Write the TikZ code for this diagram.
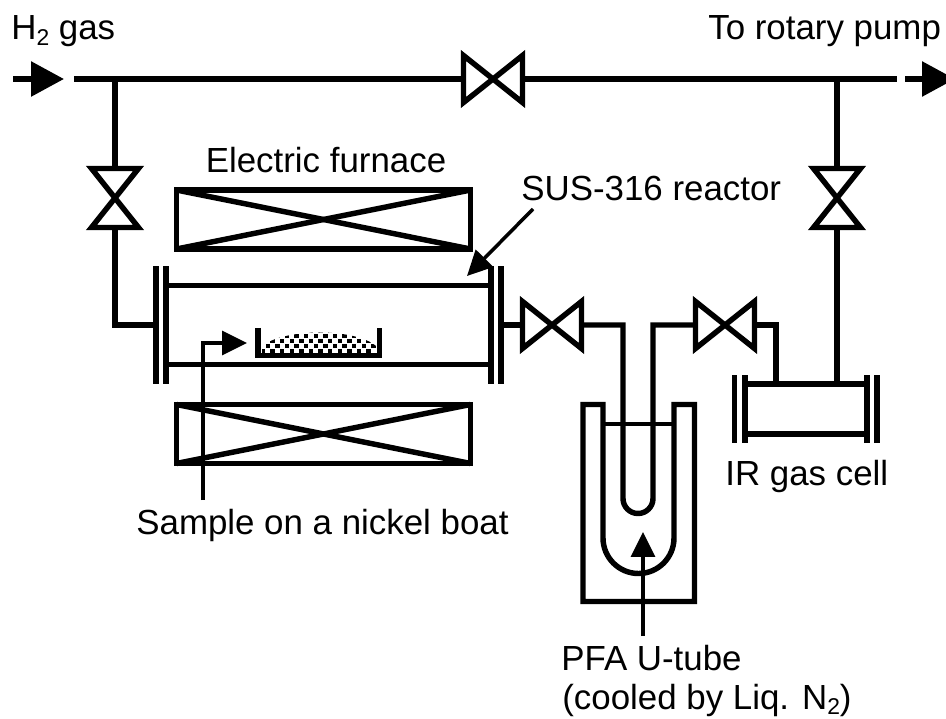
\documentclass[tikz,border=0pt]{standalone}
\usepackage{fontspec}
\setmainfont{Liberation Sans}
\usetikzlibrary{arrows.meta,positioning}

\begin{document}
\begin{tikzpicture}[
    x=0.02cm, y=-0.02cm,
    font=\fontsize{19.85}{24}\selectfont,
    pipe/.style={line width=3.1pt, line join=miter},
    thinpipe/.style={line width=1.8pt},
    bigarrow/.style={-{Triangle[length=0.66cm, width=0.68cm]}, line width=3.3pt},
    pointer/.style={-{Triangle[length=0.5cm, width=0.48cm]}, line width=2pt},
    valvex/.style={rectangle, inner sep=0pt, outer sep=0pt, minimum width=1.18cm, minimum height=0.94cm},
    valvey/.style={rectangle, inner sep=0pt, outer sep=0pt, minimum width=0.94cm, minimum height=1.18cm},
    furnace/.style={rectangle, draw, line width=3.1pt, inner sep=0pt, outer sep=0pt, minimum width=5.88cm, minimum height=1.18cm},
    vessel/.style={rectangle, inner sep=0pt, outer sep=0pt},
    flange/.style={rectangle, fill=black, inner sep=0pt, outer sep=0pt, minimum width=0.11cm},
    label/.style={inner sep=0pt, anchor=base west}
]
\clip[use as bounding box] (0,0) rectangle (946,719);

\newcommand{\subtwo}{\raisebox{-0.17em}{\fontsize{13}{13}\selectfont 2}}

\node[label] (h2) at (11,40) {H\subtwo{} gas};
\node[label] (pump) at (708,40) {To rotary pump};
\node[label] (furnacetext) at (205.5,173) {Electric furnace};
\node[label] (reactortext) at (521,201) {SUS-316 reactor};
\node[label] (boattext) at (136,534) {Sample on a nickel boat};
\node[label] (celltext) at (725,485) {IR gas cell};
\node[label] (tubetext) at (561,670) {PFA U-tube};
\node[label] (cooltext) at (562,709) {(cooled by Liq. N\subtwo)};

\node[vessel, minimum width=6.5cm, minimum height=1.58cm] (reactor) at (328.5,325) {};
\node[furnace, above=0.73cm of reactor, xshift=-0.1cm] (ftop) {};
\node[furnace, below=0.8cm of reactor, xshift=-0.1cm] (fbot) {};
\node[flange, minimum height=2.36cm] (rl1) at (reactor.west) {};
\node[flange, minimum height=2.36cm, left=0.09cm of rl1] (rl2) {};
\node[flange, minimum height=2.36cm] (rr1) at (reactor.east) {};
\node[flange, minimum height=2.36cm, right=0.09cm of rr1] (rr2) {};

\node[vessel, minimum width=2.44cm, minimum height=1cm] (cell) at (806,409) {};
\node[flange, minimum height=1.38cm] (cl1) at (cell.west) {};
\node[flange, minimum height=1.38cm, left=0.1cm of cl1] (cl2) {};
\node[flange, minimum height=1.38cm] (cr1) at (cell.east) {};
\node[flange, minimum height=1.38cm, right=0.09cm of cr1] (cr2) {};

\node[valvex] (vtop) at (493,79) {};
\node[valvex] (vreact) at (552,325) {};
\node[valvex] (vcell) at (725,325) {};
\node[valvey] (vfeed) at (115,198) {};
\node[valvey] (vexit) at (837,198) {};

\coordinate (linel) at (74,79);
\coordinate (liner) at (897,79);
\coordinate (jfeed) at (115,79);
\coordinate (jexit) at (837,79);
\coordinate (inl) at (13,79);
\coordinate (inr) at (64,79);
\coordinate (outl) at (905,79);
\coordinate (outr) at (955,79);
\coordinate (cellin) at (776,384);
\coordinate (ula) at (623,325);
\coordinate (ulb) at (623,498.5);
\coordinate (ura) at (653,325);
\coordinate (boatarrow) at (247,343);
\coordinate (boatbend) at (203,343);
\coordinate (boatend) at (203,500);
\coordinate (reactorarrow) at (467,276);
\coordinate (reactorstart) at (533,209);
\coordinate (dewararrow) at (643,532);
\coordinate (dewarend) at (643,636);

\draw[pipe] (reactor.north west) -- (reactor.north east);
\draw[pipe] (reactor.south west) -- (reactor.south east);
\draw[pipe] (cell.north west) -- (cell.north east);
\draw[pipe] (cell.south west) -- (cell.south east);
\foreach \f in {ftop,fbot} {
    \draw[pipe] (\f.north west) -- (\f.south east);
    \draw[pipe] (\f.south west) -- (\f.north east);
}
\foreach \v in {vtop,vreact,vcell} {
    \draw[pipe] (\v.north west) -- (\v.south east) -- (\v.north east) -- (\v.south west) -- cycle;
}
\foreach \v in {vfeed,vexit} {
    \draw[pipe] (\v.north west) -- (\v.north east) -- (\v.south west) -- (\v.south east) -- cycle;
}

\draw[pipe] (linel) -- (vtop.west);
\draw[pipe] (vtop.east) -- (liner);
\draw[pipe] (jfeed) -- (vfeed.north);
\draw[pipe] (vfeed.south) |- (rl2.west);
\draw[pipe] (jexit) -- (vexit.north);
\draw[pipe] (vexit.south) -- (vexit.south |- cell.north);
\draw[pipe] (rr2.east) -- (vreact.west);
\draw[pipe] (vreact.east) -- (ula) -- (ulb) arc[start angle=180, end angle=0, radius=15] -- (ura) -- (vcell.west);
\draw[pipe] (vcell.east) -| (cellin);

\draw[pipe] (603,404.5) -- (583,404.5) -- (583,601.5) -- (694.5,601.5) -- (694.5,404.5) -- (674,404.5) -- (674,538) arc[start angle=0, end angle=180, radius=35.5] -- cycle;
\draw[thinpipe] (603,424) -- (674,424);

\begin{scope}
\clip (262,357) -- (262,346) .. controls (285,328) and (355,328) .. (376,346) -- (376,357) -- cycle;
\foreach \rowy/\rowx in {351/263, 346/267.8, 341/263, 336/267.8, 331/263} {
    \foreach \n in {0,...,11} {
        \fill ({\rowx+9.6*\n-2.2},{\rowy-2.2}) rectangle ++(4.4,4.4);
    }
}
\end{scope}
\draw[pipe] (258,328) -- (258,355.5) -- (379.5,355.5) -- (379.5,328);

\draw[bigarrow] (inl) -- (inr);
\draw[bigarrow] (outl) -- (outr);
\draw[pointer] (boatend) -- (boatbend) -- (boatarrow);
\draw[pointer] (reactorstart) -- (reactorarrow);
\draw[pointer] (dewarend) -- (dewararrow);
\end{tikzpicture}
\end{document}
